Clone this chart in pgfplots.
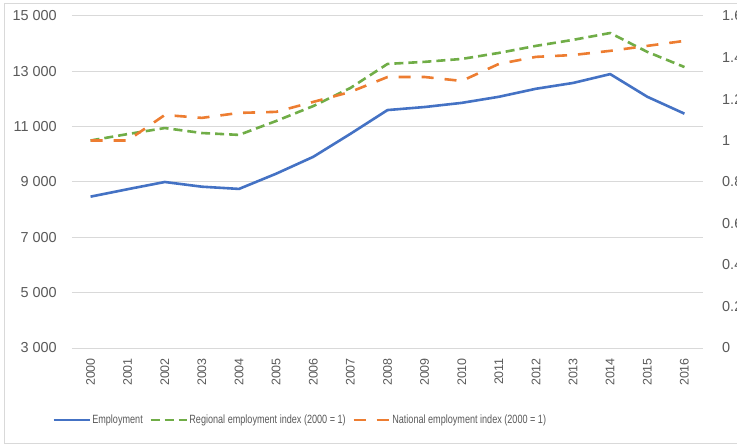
\documentclass[border=0pt]{standalone}
\usepackage{fontspec}
\setmainfont{Liberation Sans}
\newfontfamily\legendfont[FakeStretch=0.76]{Liberation Sans}
\usepackage{pgfplots}
\usepackage{pgfplotstable}
\pgfplotsset{compat=1.18}

\definecolor{empblue}{HTML}{4472C4}
\definecolor{regreen}{HTML}{70AD47}
\definecolor{natorange}{HTML}{ED7D31}
\definecolor{gridgray}{HTML}{D9D9D9}
\definecolor{textgray}{HTML}{595959}

% year index: 0 = 2000 ... 16 = 2016
\pgfplotstableread{
x emp
0  8470
1  8740
2  9000
3  8830
4  8750
5  9300
6  9910
7  10740
8  11600
9  11710
10 11860
11 12080
12 12370
13 12580
14 12900
15 12080
16 11470
}\employment

\pgfplotstableread{
x reg nat
0  1.000 1.000
1  1.031 1.000
2  1.060 1.123
3  1.036 1.109
4  1.027 1.133
5  1.094 1.138
6  1.166 1.186
7  1.253 1.234
8  1.369 1.306
9  1.379 1.306
10 1.393 1.287
11 1.422 1.369
12 1.456 1.403
13 1.485 1.412
14 1.518 1.432
15 1.427 1.456
16 1.354 1.480
}\indices

\pgfplotsset{
  common/.style={
    scale only axis, width=631bp, height=332bp,
    xmin=-0.5, xmax=16.5,
    major tick length=0pt, minor tick length=0pt,
    scaled y ticks=false,
    /pgf/number format/assume math mode=true,
  },
}

\begin{document}
\begin{tikzpicture}
\useasboundingbox (-72bp,-97bp) rectangle (665bp,348bp);
\draw[gridgray, line width=0.8bp] (700bp,345bp) -- (-68bp,345bp) -- (-68bp,-95bp) -- (700bp,-95bp);

\begin{axis}[common,
  ymin=3000, ymax=15000,
  ytick={3000,5000,7000,9000,11000,13000,15000},
  yticklabels={3 000,5 000,7 000,9 000,11 000,13 000,15 000},
  ymajorgrids, grid style={gridgray, line width=1bp},
  axis x line*=bottom, axis y line*=left,
  x axis line style={gridgray, line width=1bp, -},
  y axis line style={draw=none},
  xtick={0,...,16},
  xticklabels={2000,2001,2002,2003,2004,2005,2006,2007,2008,2009,2010,2011,2012,2013,2014,2015,2016},
  xticklabel shift=10bp,
  yticklabel shift=15bp,
  xticklabel style={rotate=90, anchor=east, inner sep=0pt,
    font=\fontsize{12.5}{14}\selectfont, text=textgray},
  yticklabel style={anchor=east, inner sep=0pt,
    font=\fontsize{14.5}{16}\selectfont, text=textgray},
]
\addplot[empblue, line width=2.6bp, line join=round] table[x=x, y=emp] {\employment};
\end{axis}

\begin{axis}[common,
  ymin=0, ymax=1.6,
  ytick={0,0.2,0.4,0.6,0.8,1,1.2,1.4,1.6},
  axis y line*=right, axis x line=none,
  y axis line style={draw=none},
  yticklabel shift=19bp,
  yticklabel style={anchor=west, inner sep=0pt,
    font=\fontsize{14.5}{16}\selectfont, text=textgray},
  legend columns=3,
  legend cell align=left,
  legend image code/.code={\draw[#1] (0bp,0bp) -- (36bp,0bp);},
  legend style={at={(-0.0317,-0.2169)}, anchor=west, draw=none, fill=none,
    inner sep=0pt, font=\legendfont\fontsize{12}{14}\selectfont, text=textgray,
    /tikz/every even column/.append style={column sep=5bp},
    nodes={inner sep=1.5bp}},
]
\addlegendimage{empblue, line width=2.6bp}
\addlegendentry{Employment}
\addplot[regreen, line width=2.6bp, dash pattern=on 9bp off 5bp, line join=round]
  table[x=x, y=reg] {\indices};
\addlegendentry{Regional employment index (2000 = 1)}
\addplot[natorange, line width=2.6bp, dash pattern=on 12bp off 11bp, line join=round]
  table[x=x, y=nat] {\indices};
\addlegendentry{National employment index (2000 = 1)}
\end{axis}
\end{tikzpicture}
\end{document}
